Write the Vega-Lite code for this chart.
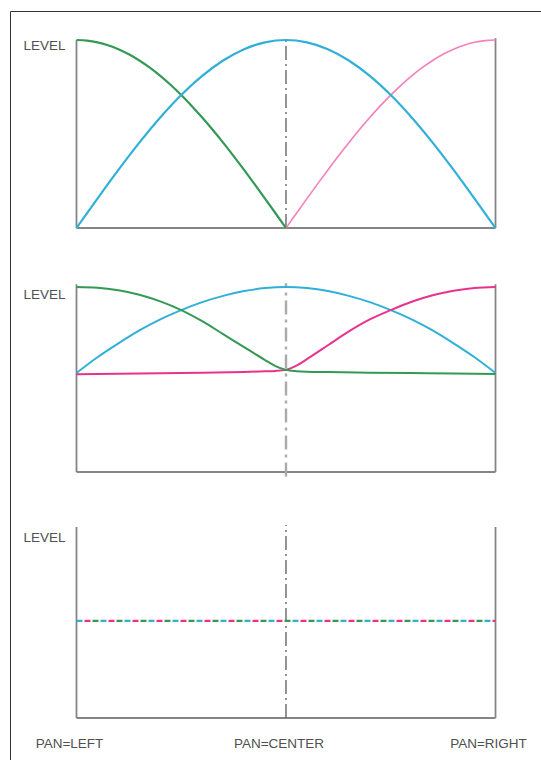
{
  "$schema": "https://vega.github.io/schema/vega-lite/v6.json",
  "width": 531,
  "height": 749,
  "autosize": {"type": "none"},
  "padding": {"left": 10, "top": 11, "right": 0, "bottom": 0},
  "background": "white",
  "config": {"view": {"stroke": "#333333", "strokeWidth": 1}},
  "datasets": {
    "curves": [
      {"panel": 1, "series": "L", "p": 0, "level": 1},
      {"panel": 1, "series": "L", "p": 0.025, "level": 0.9969},
      {"panel": 1, "series": "L", "p": 0.05, "level": 0.9877},
      {"panel": 1, "series": "L", "p": 0.075, "level": 0.9724},
      {"panel": 1, "series": "L", "p": 0.1, "level": 0.9511},
      {"panel": 1, "series": "L", "p": 0.125, "level": 0.9239},
      {"panel": 1, "series": "L", "p": 0.15, "level": 0.891},
      {"panel": 1, "series": "L", "p": 0.175, "level": 0.8526},
      {"panel": 1, "series": "L", "p": 0.2, "level": 0.809},
      {"panel": 1, "series": "L", "p": 0.225, "level": 0.7604},
      {"panel": 1, "series": "L", "p": 0.25, "level": 0.7071},
      {"panel": 1, "series": "L", "p": 0.275, "level": 0.6494},
      {"panel": 1, "series": "L", "p": 0.3, "level": 0.5878},
      {"panel": 1, "series": "L", "p": 0.325, "level": 0.5225},
      {"panel": 1, "series": "L", "p": 0.35, "level": 0.454},
      {"panel": 1, "series": "L", "p": 0.375, "level": 0.3827},
      {"panel": 1, "series": "L", "p": 0.4, "level": 0.309},
      {"panel": 1, "series": "L", "p": 0.425, "level": 0.2334},
      {"panel": 1, "series": "L", "p": 0.45, "level": 0.1564},
      {"panel": 1, "series": "L", "p": 0.475, "level": 0.0785},
      {"panel": 1, "series": "L", "p": 0.5, "level": 0},
      {"panel": 1, "series": "C", "p": 0, "level": 0},
      {"panel": 1, "series": "C", "p": 0.05, "level": 0.1564},
      {"panel": 1, "series": "C", "p": 0.1, "level": 0.309},
      {"panel": 1, "series": "C", "p": 0.15, "level": 0.454},
      {"panel": 1, "series": "C", "p": 0.2, "level": 0.5878},
      {"panel": 1, "series": "C", "p": 0.25, "level": 0.7071},
      {"panel": 1, "series": "C", "p": 0.3, "level": 0.809},
      {"panel": 1, "series": "C", "p": 0.35, "level": 0.891},
      {"panel": 1, "series": "C", "p": 0.4, "level": 0.9511},
      {"panel": 1, "series": "C", "p": 0.45, "level": 0.9877},
      {"panel": 1, "series": "C", "p": 0.5, "level": 1},
      {"panel": 1, "series": "C", "p": 0.55, "level": 0.9877},
      {"panel": 1, "series": "C", "p": 0.6, "level": 0.9511},
      {"panel": 1, "series": "C", "p": 0.65, "level": 0.891},
      {"panel": 1, "series": "C", "p": 0.7, "level": 0.809},
      {"panel": 1, "series": "C", "p": 0.75, "level": 0.7071},
      {"panel": 1, "series": "C", "p": 0.8, "level": 0.5878},
      {"panel": 1, "series": "C", "p": 0.85, "level": 0.454},
      {"panel": 1, "series": "C", "p": 0.9, "level": 0.309},
      {"panel": 1, "series": "C", "p": 0.95, "level": 0.1564},
      {"panel": 1, "series": "C", "p": 1, "level": 0},
      {"panel": 1, "series": "R", "p": 0.5, "level": 0},
      {"panel": 1, "series": "R", "p": 0.525, "level": 0.0785},
      {"panel": 1, "series": "R", "p": 0.55, "level": 0.1564},
      {"panel": 1, "series": "R", "p": 0.575, "level": 0.2334},
      {"panel": 1, "series": "R", "p": 0.6, "level": 0.309},
      {"panel": 1, "series": "R", "p": 0.625, "level": 0.3827},
      {"panel": 1, "series": "R", "p": 0.65, "level": 0.454},
      {"panel": 1, "series": "R", "p": 0.675, "level": 0.5225},
      {"panel": 1, "series": "R", "p": 0.7, "level": 0.5878},
      {"panel": 1, "series": "R", "p": 0.725, "level": 0.6494},
      {"panel": 1, "series": "R", "p": 0.75, "level": 0.7071},
      {"panel": 1, "series": "R", "p": 0.775, "level": 0.7604},
      {"panel": 1, "series": "R", "p": 0.8, "level": 0.809},
      {"panel": 1, "series": "R", "p": 0.825, "level": 0.8526},
      {"panel": 1, "series": "R", "p": 0.85, "level": 0.891},
      {"panel": 1, "series": "R", "p": 0.875, "level": 0.9239},
      {"panel": 1, "series": "R", "p": 0.9, "level": 0.9511},
      {"panel": 1, "series": "R", "p": 0.925, "level": 0.9724},
      {"panel": 1, "series": "R", "p": 0.95, "level": 0.9877},
      {"panel": 1, "series": "R", "p": 0.975, "level": 0.9969},
      {"panel": 1, "series": "R", "p": 1, "level": 1},
      {"panel": 2, "series": "C", "p": 0, "level": 0.535},
      {"panel": 2, "series": "C", "p": 0.05, "level": 0.62},
      {"panel": 2, "series": "C", "p": 0.1, "level": 0.695},
      {"panel": 2, "series": "C", "p": 0.15, "level": 0.765},
      {"panel": 2, "series": "C", "p": 0.2, "level": 0.825},
      {"panel": 2, "series": "C", "p": 0.25, "level": 0.875},
      {"panel": 2, "series": "C", "p": 0.3, "level": 0.918},
      {"panel": 2, "series": "C", "p": 0.35, "level": 0.952},
      {"panel": 2, "series": "C", "p": 0.4, "level": 0.978},
      {"panel": 2, "series": "C", "p": 0.45, "level": 0.994},
      {"panel": 2, "series": "C", "p": 0.5, "level": 1},
      {"panel": 2, "series": "C", "p": 0.55, "level": 0.994},
      {"panel": 2, "series": "C", "p": 0.6, "level": 0.978},
      {"panel": 2, "series": "C", "p": 0.65, "level": 0.952},
      {"panel": 2, "series": "C", "p": 0.7, "level": 0.918},
      {"panel": 2, "series": "C", "p": 0.75, "level": 0.875},
      {"panel": 2, "series": "C", "p": 0.8, "level": 0.825},
      {"panel": 2, "series": "C", "p": 0.85, "level": 0.765},
      {"panel": 2, "series": "C", "p": 0.9, "level": 0.695},
      {"panel": 2, "series": "C", "p": 0.95, "level": 0.62},
      {"panel": 2, "series": "C", "p": 1, "level": 0.535},
      {"panel": 2, "series": "R", "p": 0, "level": 0.528},
      {"panel": 2, "series": "R", "p": 0.1, "level": 0.531},
      {"panel": 2, "series": "R", "p": 0.2, "level": 0.534},
      {"panel": 2, "series": "R", "p": 0.3, "level": 0.537},
      {"panel": 2, "series": "R", "p": 0.4, "level": 0.541},
      {"panel": 2, "series": "R", "p": 0.45, "level": 0.544},
      {"panel": 2, "series": "R", "p": 0.475, "level": 0.546},
      {"panel": 2, "series": "R", "p": 0.5, "level": 0.552},
      {"panel": 2, "series": "R", "p": 0.525, "level": 0.575},
      {"panel": 2, "series": "R", "p": 0.55, "level": 0.61},
      {"panel": 2, "series": "R", "p": 0.6, "level": 0.685},
      {"panel": 2, "series": "R", "p": 0.65, "level": 0.76},
      {"panel": 2, "series": "R", "p": 0.7, "level": 0.825},
      {"panel": 2, "series": "R", "p": 0.75, "level": 0.875},
      {"panel": 2, "series": "R", "p": 0.8, "level": 0.92},
      {"panel": 2, "series": "R", "p": 0.85, "level": 0.955},
      {"panel": 2, "series": "R", "p": 0.9, "level": 0.98},
      {"panel": 2, "series": "R", "p": 0.95, "level": 0.995},
      {"panel": 2, "series": "R", "p": 1, "level": 1},
      {"panel": 2, "series": "L", "p": 0, "level": 1},
      {"panel": 2, "series": "L", "p": 0.05, "level": 0.996},
      {"panel": 2, "series": "L", "p": 0.1, "level": 0.982},
      {"panel": 2, "series": "L", "p": 0.15, "level": 0.958},
      {"panel": 2, "series": "L", "p": 0.2, "level": 0.922},
      {"panel": 2, "series": "L", "p": 0.25, "level": 0.875},
      {"panel": 2, "series": "L", "p": 0.3, "level": 0.815},
      {"panel": 2, "series": "L", "p": 0.35, "level": 0.745},
      {"panel": 2, "series": "L", "p": 0.4, "level": 0.675},
      {"panel": 2, "series": "L", "p": 0.45, "level": 0.605},
      {"panel": 2, "series": "L", "p": 0.475, "level": 0.572},
      {"panel": 2, "series": "L", "p": 0.5, "level": 0.552},
      {"panel": 2, "series": "L", "p": 0.525, "level": 0.545},
      {"panel": 2, "series": "L", "p": 0.55, "level": 0.542},
      {"panel": 2, "series": "L", "p": 0.6, "level": 0.54},
      {"panel": 2, "series": "L", "p": 0.7, "level": 0.537},
      {"panel": 2, "series": "L", "p": 0.8, "level": 0.535},
      {"panel": 2, "series": "L", "p": 0.9, "level": 0.532},
      {"panel": 2, "series": "L", "p": 1, "level": 0.53}
    ],
    "guides": [
      {"panel": 1, "kind": "axis", "p": 0, "p2": 0, "level": 0, "level2": 1},
      {"panel": 1, "kind": "axis", "p": 1, "p2": 1, "level": 0, "level2": 1.01},
      {"panel": 1, "kind": "axis", "p": 0, "p2": 1, "level": 0, "level2": 0},
      {"panel": 1, "kind": "center", "p": 0.5, "p2": 0.5, "level": 0, "level2": 1},
      {"panel": 2, "kind": "axis", "p": 0, "p2": 0, "level": 0, "level2": 1.015},
      {"panel": 2, "kind": "axis", "p": 1, "p2": 1, "level": 0, "level2": 1.015},
      {"panel": 2, "kind": "axis", "p": 0, "p2": 1, "level": 0, "level2": 0},
      {"panel": 2, "kind": "center", "p": 0.5, "p2": 0.5, "level": -0.025, "level2": 1.02},
      {"panel": 3, "kind": "axis", "p": 0, "p2": 0, "level": 0, "level2": 1},
      {"panel": 3, "kind": "axis", "p": 1, "p2": 1, "level": 0, "level2": 1},
      {"panel": 3, "kind": "axis", "p": 0, "p2": 1, "level": 0, "level2": 0},
      {"panel": 3, "kind": "center", "p": 0.5, "p2": 0.5, "level": 0, "level2": 1.01},
      {"panel": 3, "kind": "flat", "p": 0, "p2": 1, "level": 0.508, "level2": 0.508}
    ],
    "labels": [
      {"panel": 1, "kind": "title", "p": 0, "level": 1, "text": "LEVEL"},
      {"panel": 2, "kind": "title", "p": 0, "level": 1, "text": "LEVEL"},
      {"panel": 3, "kind": "title", "p": 0, "level": 1, "text": "LEVEL"},
      {"panel": 3, "kind": "pan", "p": 0, "level": -0.136, "text": "PAN=LEFT"},
      {"panel": 3, "kind": "pan", "p": 0.5, "level": -0.136, "text": "PAN=CENTER"},
      {"panel": 3, "kind": "pan", "p": 1, "level": -0.136, "text": "PAN=RIGHT"}
    ]
  },
  "layer": [
    {
      "encoding": {
        "x": {"field": "p", "type": "quantitative", "scale": {"domain": [-0.1587, 1.1086], "nice": false, "zero": false}, "axis": null},
        "y": {"field": "level", "type": "quantitative", "scale": {"domain": [-2.8298, 1.1543], "nice": false, "zero": false}, "axis": null}
      },
      "layer": [
        {
          "data": {"name": "guides"},
          "transform": [{"filter": "datum.panel == 1 && datum.kind == 'axis'"}],
          "mark": {"type": "rule", "color": "#858585", "strokeWidth": 1.8},
          "encoding": {"x2": {"field": "p2"}, "y2": {"field": "level2"}}
        },
        {
          "data": {"name": "guides"},
          "transform": [{"filter": "datum.panel == 1 && datum.kind == 'center'"}],
          "mark": {"type": "rule", "color": "#666666", "strokeWidth": 1.4, "strokeDash": [14, 4, 2, 4]},
          "encoding": {"x2": {"field": "p2"}, "y2": {"field": "level2"}}
        },
        {
          "data": {"name": "curves"},
          "transform": [{"filter": "datum.panel == 1 && datum.series == 'R'"}],
          "mark": {"type": "line", "interpolate": "monotone", "color": "#f580bb", "strokeWidth": 1.6},
          "encoding": {}
        },
        {
          "data": {"name": "curves"},
          "transform": [{"filter": "datum.panel == 1 && datum.series != 'R'"}],
          "mark": {"type": "line", "interpolate": "monotone", "strokeWidth": 2.2},
          "encoding": {
            "color": {"field": "series", "type": "nominal", "scale": {"domain": ["C", "R", "L"], "range": ["#30b0d8", "#f580bb", "#339955"]}, "legend": null}
          }
        },
        {
          "data": {"name": "labels"},
          "transform": [{"filter": "datum.panel == 1"}],
          "mark": {"type": "text", "align": "right", "baseline": "middle", "dx": -11, "dy": 6, "font": "Liberation Sans", "fontSize": 13.5, "color": "#505050"},
          "encoding": {"text": {"field": "text"}}
        }
      ]
    },
    {
      "encoding": {
        "x": {"field": "p", "type": "quantitative", "scale": {"domain": [-0.1587, 1.1086], "nice": false, "zero": false}, "axis": null},
        "y": {"field": "level", "type": "quantitative", "scale": {"domain": [-1.5568, 2.4919], "nice": false, "zero": false}, "axis": null}
      },
      "layer": [
        {
          "data": {"name": "guides"},
          "transform": [{"filter": "datum.panel == 2 && datum.kind == 'axis'"}],
          "mark": {"type": "rule", "color": "#858585", "strokeWidth": 1.8},
          "encoding": {"x2": {"field": "p2"}, "y2": {"field": "level2"}}
        },
        {
          "data": {"name": "guides"},
          "transform": [{"filter": "datum.panel == 2 && datum.kind == 'center'"}],
          "mark": {"type": "rule", "color": "#aaaaaa", "strokeWidth": 2.4, "strokeDash": [14, 5, 3, 5]},
          "encoding": {"x2": {"field": "p2"}, "y2": {"field": "level2"}}
        },
        {
          "data": {"name": "curves"},
          "transform": [{"filter": "datum.panel == 2"}],
          "mark": {"type": "line", "interpolate": "monotone", "strokeWidth": 2},
          "encoding": {
            "color": {"field": "series", "type": "nominal", "scale": {"domain": ["C", "R", "L"], "range": ["#30b0d8", "#e8338c", "#339955"]}, "legend": null}
          }
        },
        {
          "data": {"name": "labels"},
          "transform": [{"filter": "datum.panel == 2"}],
          "mark": {"type": "text", "align": "right", "baseline": "middle", "dx": -11, "dy": 8, "font": "Liberation Sans", "fontSize": 13.5, "color": "#505050"},
          "encoding": {"text": {"field": "text"}}
        }
      ]
    },
    {
      "encoding": {
        "x": {"field": "p", "type": "quantitative", "scale": {"domain": [-0.1587, 1.1086], "nice": false, "zero": false}, "axis": null},
        "y": {"field": "level", "type": "quantitative", "scale": {"domain": [-0.2199, 3.7016], "nice": false, "zero": false}, "axis": null}
      },
      "layer": [
        {
          "data": {"name": "guides"},
          "transform": [{"filter": "datum.panel == 3 && datum.kind == 'axis'"}],
          "mark": {"type": "rule", "color": "#858585", "strokeWidth": 1.8},
          "encoding": {"x2": {"field": "p2"}, "y2": {"field": "level2"}}
        },
        {
          "data": {"name": "guides"},
          "transform": [{"filter": "datum.panel == 3 && datum.kind == 'center'"}],
          "mark": {"type": "rule", "color": "#666666", "strokeWidth": 1.4, "strokeDash": [14, 4, 2, 4]},
          "encoding": {"x2": {"field": "p2"}, "y2": {"field": "level2"}}
        },
        {
          "data": {"name": "guides"},
          "transform": [{"filter": "datum.panel == 3 && datum.kind == 'flat'"}],
          "mark": {"type": "rule", "color": "#30b0d8", "strokeWidth": 2.2, "strokeDash": [6, 18], "strokeDashOffset": 0},
          "encoding": {"x2": {"field": "p2"}, "y2": {"field": "level2"}}
        },
        {
          "data": {"name": "guides"},
          "transform": [{"filter": "datum.panel == 3 && datum.kind == 'flat'"}],
          "mark": {"type": "rule", "color": "#e8338c", "strokeWidth": 2.2, "strokeDash": [6, 18], "strokeDashOffset": 16},
          "encoding": {"x2": {"field": "p2"}, "y2": {"field": "level2"}}
        },
        {
          "data": {"name": "guides"},
          "transform": [{"filter": "datum.panel == 3 && datum.kind == 'flat'"}],
          "mark": {"type": "rule", "color": "#339955", "strokeWidth": 2.2, "strokeDash": [6, 18], "strokeDashOffset": 8},
          "encoding": {"x2": {"field": "p2"}, "y2": {"field": "level2"}}
        },
        {
          "data": {"name": "labels"},
          "transform": [{"filter": "datum.panel == 3 && datum.kind == 'title'"}],
          "mark": {"type": "text", "align": "right", "baseline": "middle", "dx": -11, "dy": 11, "font": "Liberation Sans", "fontSize": 13.5, "color": "#505050"},
          "encoding": {"text": {"field": "text"}}
        },
        {
          "data": {"name": "labels"},
          "transform": [{"filter": "datum.panel == 3 && datum.kind == 'pan'"}],
          "mark": {"type": "text", "align": "center", "baseline": "middle", "dx": -7, "font": "Liberation Sans", "fontSize": 13.5, "color": "#505050"},
          "encoding": {"text": {"field": "text"}}
        }
      ]
    }
  ],
  "resolve": {"scale": {"y": "independent", "color": "independent"}}
}
